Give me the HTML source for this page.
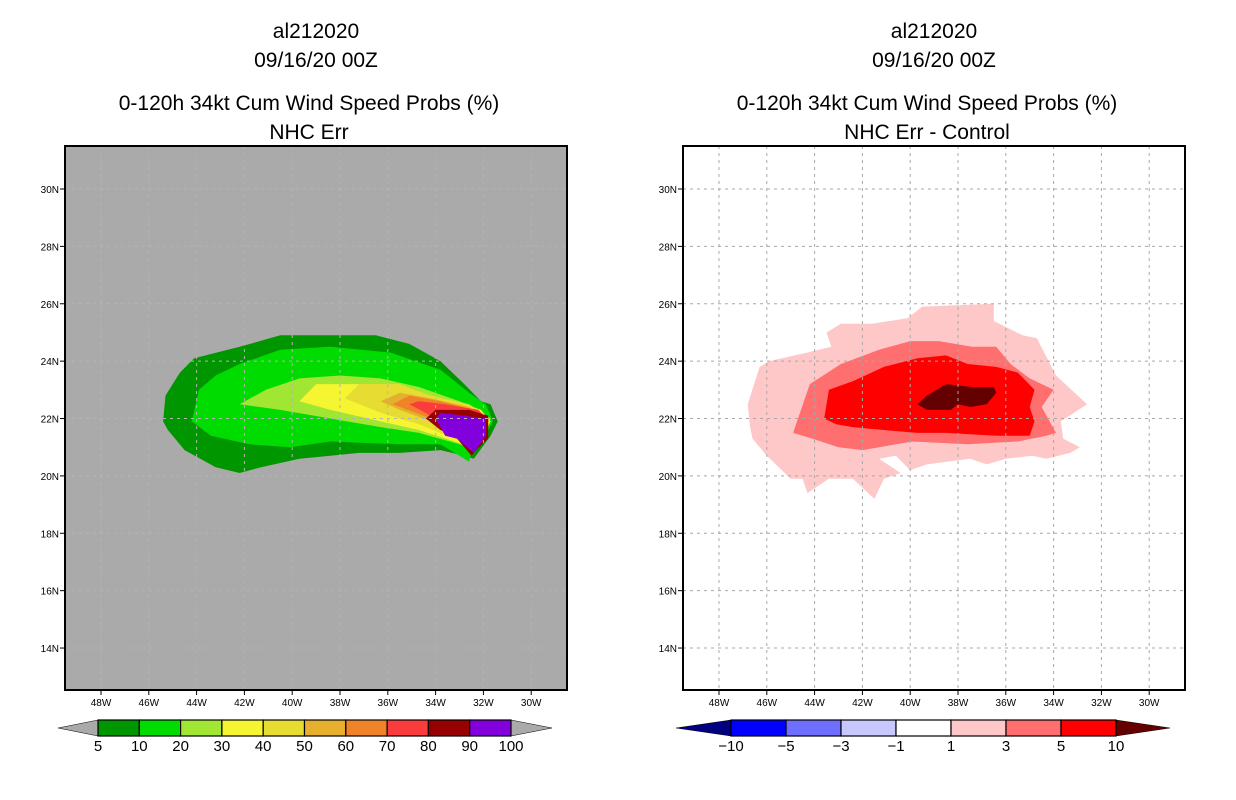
<!DOCTYPE html>
<html><head><meta charset="utf-8"><style>
html,body{margin:0;padding:0;background:#fff;}
svg{display:block;font-family:"Liberation Sans",sans-serif;}
</style></head><body>
<svg id="root" width="1236" height="800" viewBox="0 0 1236 800" xmlns="http://www.w3.org/2000/svg">
<g id="titles" font-size="21" text-anchor="middle" fill="#000">
<text x="316" y="38">al212020</text>
<text x="316" y="67">09/16/20 00Z</text>
<text x="309" y="110">0-120h 34kt Cum Wind Speed Probs (%)</text>
<text x="309" y="139">NHC Err</text>
<text x="934" y="38">al212020</text>
<text x="934" y="67">09/16/20 00Z</text>
<text x="927" y="110">0-120h 34kt Cum Wind Speed Probs (%)</text>
<text x="927" y="139">NHC Err - Control</text>
</g>
<g id="left"></g>
<g id="right"></g>
<g id="cbars"></g>
</svg>
<script>
const latTicks=[30,28,26,24,22,20,18,16,14];
const lonTicks=[48,46,44,42,40,38,36,34,32,30];
// left: probability contours [lonW, lat]
const leftLevels=[5,10,20,30,40,50,60,70,80,90,100];
const leftColors=["#009600","#00dc00","#a0e632","#f5f532","#e6dc32","#e6af2d","#f08228","#fa3c3c","#960000","#8200dc"];
const leftPolys=[
[[45.4,21.9],[45.3,22.8],[44.7,23.6],[44.1,24.1],[42.2,24.5],[40.5,24.9],[39.7,24.9],[37.6,24.9],[36.5,24.9],[35.1,24.6],[33.8,24.0],[32.8,23.2],[32.1,22.6],[31.7,22.5],[31.4,21.9],[31.7,21.4],[32.4,20.6],[32.8,20.7],[33.8,20.9],[35.5,20.8],[37.2,20.8],[38.4,20.7],[39.7,20.6],[41.3,20.3],[42.2,20.1],[43.2,20.3],[44.5,20.9],[45.2,21.6]],
[[44.2,21.9],[43.9,23.0],[43.2,23.5],[42.2,23.9],[40.5,24.4],[38.4,24.5],[35.9,24.3],[33.8,23.7],[32.6,22.9],[31.9,22.5],[31.6,21.9],[32.0,21.3],[32.5,20.8],[32.6,20.5],[33.8,21.1],[35.5,21.1],[38.4,21.2],[40.1,21.0],[41.8,21.1],[43.4,21.4]],
[[42.2,22.5],[41.1,23.0],[39.7,23.4],[38.0,23.5],[36.3,23.4],[34.7,23.1],[33.0,22.6],[32.1,22.3],[31.7,21.9],[32.2,21.1],[32.4,20.9],[33.0,21.1],[34.7,21.5],[36.3,21.7],[38.4,22.0],[40.5,22.3]],
[[39.7,22.6],[39.0,23.2],[37.8,23.2],[35.9,23.2],[33.8,22.7],[32.1,22.3],[31.7,21.9],[32.2,21.1],[32.5,21.0],[33.2,21.2],[34.7,21.6],[36.3,21.9],[38.4,22.3]],
[[37.8,22.7],[37.2,23.2],[35.5,23.2],[34.2,22.8],[32.6,22.5],[31.7,22.0],[32.2,21.1],[32.5,21.0],[33.2,21.3],[34.7,21.8],[36.3,22.2]],
[[36.3,22.6],[35.5,22.9],[34.2,22.7],[32.6,22.4],[31.8,21.9],[32.2,21.1],[32.5,21.0],[33.1,21.4],[34.2,21.9],[35.5,22.3]],
[[35.8,22.5],[35.1,22.8],[33.8,22.6],[32.4,22.3],[31.8,21.9],[32.2,21.2],[32.5,21.0],[33.0,21.5],[34.2,22.0]],
[[35.1,22.5],[34.7,22.6],[33.6,22.5],[32.2,22.3],[31.8,21.9],[32.2,21.3],[32.5,21.0],[33.0,21.6],[34.2,22.1]],
[[34.4,22.0],[34.0,22.3],[32.6,22.3],[31.8,22.1],[31.8,21.3],[32.3,20.9],[32.5,20.7],[33.2,21.4],[33.8,21.6]],
[[34.0,22.0],[33.8,22.2],[31.9,22.0],[31.9,21.4],[32.4,20.8],[33.1,21.3],[33.6,21.4]]
];
// right: difference contours
const rightLevels=[-10,-5,-3,-1,1,3,5,10];
const rightColors=["#0000ff","#6f6fff","#c8c8ff","#ffffff","#ffc8c8","#ff6f6f","#ff0000"];
const rightLowColor="#000080", rightHighColor="#640000";
const rightPolys=[
{c:"#ffc8c8",p:[[46.8,22.5],[46.3,23.8],[45.9,24.0],[44.3,24.3],[43.3,24.5],[43.5,25.0],[42.9,25.3],[41.6,25.3],[40.1,25.5],[39.5,25.9],[36.5,26.0],[36.5,25.4],[35.3,24.9],[34.7,24.8],[33.9,23.5],[32.6,22.5],[33.7,21.9],[33.6,21.3],[32.9,21.0],[33.3,20.8],[34.3,20.6],[34.9,20.7],[36.0,20.6],[36.8,20.4],[37.5,20.6],[39.3,20.4],[40.0,20.2],[40.6,20.7],[41.3,20.6],[40.4,20.1],[41.1,19.9],[41.5,19.2],[42.4,19.9],[43.4,19.9],[44.3,19.4],[44.5,19.9],[45.0,19.9],[46.0,20.7],[46.6,21.3],[46.7,21.7]]},
{c:"#ff6f6f",p:[[44.9,21.5],[44.2,23.2],[42.9,23.9],[41.3,24.4],[40.0,24.7],[38.8,24.7],[37.4,24.5],[36.4,24.5],[35.8,23.9],[35.0,23.4],[34.0,23.0],[34.5,22.4],[33.9,21.5],[34.3,21.4],[35.5,21.2],[37.6,21.1],[39.9,21.2],[41.3,21.0],[42.0,20.9],[43.0,21.0],[44.1,21.3]]},
{c:"#ff0000",p:[[43.6,22.0],[43.4,23.0],[42.4,23.3],[41.1,23.8],[39.7,24.1],[38.5,24.2],[37.6,23.9],[36.4,23.8],[35.5,23.6],[34.8,23.0],[35.0,22.4],[34.8,21.9],[35.0,21.4],[36.4,21.4],[38.5,21.5],[39.7,21.5],[41.1,21.6],[42.4,21.7],[43.1,21.8]]},
{c:"#640000",p:[[39.7,22.5],[39.3,22.8],[38.5,23.2],[37.4,23.1],[36.5,23.1],[36.4,22.9],[36.8,22.5],[37.5,22.4],[38.0,22.5],[38.3,22.3],[39.3,22.3]]}
];
const NS="http://www.w3.org/2000/svg";
function mk(tag,attrs,parent){const e=document.createElementNS(NS,tag);for(const k in attrs)e.setAttribute(k,attrs[k]);parent.appendChild(e);return e;}
const PX0=65,PY0=146,PW=502,PH=544;
function xs(off,lonW){return off+101+(48-lonW)*23.9;}
function ys(lat){return 189+(30-lat)*28.69;}
function drawMap(g,off,bg,polys,isLeft){
  const frame=mk('rect',{x:off+PX0,y:PY0,width:PW,height:PH,fill:bg},g);
  
  
  polys.forEach((pp,i)=>{
    const pts=(pp.p||pp).map(q=>xs(off,q[0]).toFixed(1)+','+ys(q[1]).toFixed(1)).join(' ');
    const el=mk('polygon',{points:pts,fill:pp.c||leftColors[i]},g);
    
    
  });
  const gridCol=isLeft?'#b4b4b4':'#a8a8a8';
  lonTicks.forEach(l=>{const x=xs(off,l);
    const gl=mk('line',{x1:x,y1:PY0,x2:x,y2:PY0+PH,stroke:gridCol,'stroke-width':1,'stroke-dasharray':'3,4'},g);
    
    
    mk('line',{x1:x,y1:PY0+PH,x2:x,y2:PY0+PH+5,stroke:'#000'},g);
    const t=mk('text',{x:x,y:PY0+PH+16,'font-size':10,'text-anchor':'middle'},g);t.textContent=l+'W';
    
    
  });
  latTicks.forEach(l=>{const y=ys(l);
    const gl=mk('line',{x1:off+PX0,y1:y,x2:off+PX0+PW,y2:y,stroke:gridCol,'stroke-width':1,'stroke-dasharray':'3,4'},g);
    
    
    mk('line',{x1:off+PX0-5,y1:y,x2:off+PX0,y2:y,stroke:'#000'},g);
    const t=mk('text',{x:off+PX0-6,y:y+4,'font-size':10,'text-anchor':'end'},g);t.textContent=l+'N';
    
    
  });
  const fr=mk('rect',{x:off+PX0,y:PY0,width:PW,height:PH,fill:'none',stroke:'#000','stroke-width':2},g);
  
  
}
drawMap(document.getElementById('left'),0,'#aaaaaa',leftPolys,true);
drawMap(document.getElementById('right'),618,'#ffffff',rightPolys,false);
function bar(g,x0,x1,y0,y1,tl,tr,colors,labels,lowC,highC,name){
  const n=colors.length,w=(x1-x0)/n,ym=(y0+y1)/2;
  const lt=mk('polygon',{points:`${tl},${ym} ${x0},${y0} ${x0},${y1}`,fill:lowC,stroke:'#000','stroke-width':0.5},g);
  
  
  const rt=mk('polygon',{points:`${tr},${ym} ${x1},${y0} ${x1},${y1}`,fill:highC,stroke:'#000','stroke-width':0.5},g);
  
  
  colors.forEach((c,i)=>{const r=mk('rect',{x:x0+i*w,y:y0,width:w,height:y1-y0,fill:c,stroke:'#000','stroke-width':1.2},g);
    
    });
  labels.forEach((l,i)=>{const t=mk('text',{x:x0+i*w,y:y1+15,'font-size':15,'text-anchor':'middle'},g);
    t.textContent=String(l).replace('-','\u2212');
    
    });
}
const cb=document.getElementById('cbars');
bar(cb,98,511,720,736,58,552,leftColors,leftLevels,'#aaaaaa','#aaaaaa','left-colorbar');
bar(cb,731,1116,720,736,676,1170,rightColors,rightLevels,rightLowColor,rightHighColor,'right-colorbar');
</script>
</body></html>
